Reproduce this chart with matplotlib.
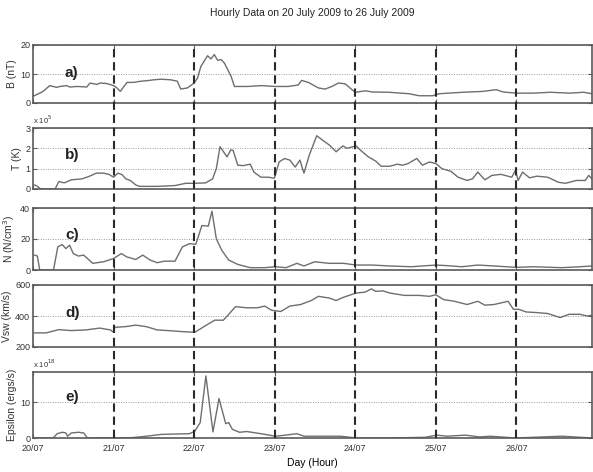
import matplotlib
matplotlib.use("Agg")
import matplotlib.pyplot as plt
import numpy as np

plt.rcParams['font.family'] = ['Liberation Sans', 'DejaVu Sans']

# ---- hourly solar-wind data, 20-26 July 2009 (hours from 20/07 00:00) ----
b_hours = [0, 2, 3, 5, 7, 8, 10, 11, 13, 15, 16, 17, 19, 20, 22, 24, 25, 26, 28, 30,
           32, 34, 36, 38, 41, 43, 44, 46, 48, 49, 50, 52, 53, 54, 55, 56, 57, 59, 60, 64,
           68, 72, 76, 79, 80, 82, 85, 87, 89, 91, 93, 95, 96, 99, 101, 106, 112, 115, 119, 121,
           128, 134, 138, 140, 144, 149, 154, 160, 164, 166.5]
b_field = [2.3, 3.4, 4.0, 6.0, 5.4, 5.7, 6.0, 5.5, 5.7, 5.6, 5.5, 6.9, 6.4, 6.9, 6.7, 6.0, 5.2, 4.0, 7.1, 7.1,
           7.5, 7.7, 8.0, 8.2, 8.0, 7.5, 4.8, 5.2, 6.9, 8.6, 12.6, 16.3, 15.2, 16.7, 14.7, 15.0, 13.8, 9.2, 5.7, 5.7,
           6.0, 5.7, 5.7, 6.2, 7.8, 7.1, 5.2, 4.8, 5.7, 6.9, 6.6, 4.6, 3.7, 4.2, 3.8, 3.7, 3.2, 2.5, 2.5, 3.2,
           3.7, 4.0, 4.6, 3.8, 3.4, 3.4, 3.7, 3.4, 3.7, 3.2]

t_hours = [0.5, 1.3, 2.3, 6.6, 7.7, 9.3, 11.4, 14.6, 16.7, 18.9, 21, 22.6, 24, 25.3, 26.6, 27.6, 29, 30.6, 31.7, 37,
           42.3, 45.5, 48.2, 51.4, 53.5, 54.6, 55.7, 57.8, 58.9, 59.6, 61, 62.6, 64.7, 65.8, 67.9, 70.1, 71.9, 73.3, 74.9, 76.5,
           78.1, 79.5, 80.7, 82.3, 84.5, 86.1, 88.2, 90.3, 92.3, 93.5, 96.2, 97.8, 99.9, 102.1, 103.7, 106.3, 108.5, 110.1, 111.7, 114.3,
           116, 118.1, 120, 121.8, 124.5, 126.6, 129.3, 130.9, 132.5, 134.6, 136.7, 139.4, 142.6, 143.7, 144.5, 145.8, 147.9, 150.1, 153.3, 156.5,
           158.6, 161.8, 164.5, 165.5, 166.5]
temp_e5 = [0.2, 0.13, 0.0, 0.0, 0.37, 0.3, 0.45, 0.5, 0.62, 0.78, 0.78, 0.72, 0.58, 0.78, 0.7, 0.5, 0.42, 0.2, 0.13, 0.13,
           0.17, 0.28, 0.28, 0.3, 0.5, 1.0, 2.08, 1.58, 1.92, 1.9, 1.17, 1.15, 1.22, 0.83, 0.58, 0.58, 0.53, 1.33, 1.5, 1.42,
           1.08, 1.42, 0.78, 1.67, 2.62, 2.42, 2.17, 1.83, 2.12, 2.0, 2.12, 1.87, 1.58, 1.37, 1.12, 1.12, 1.22, 1.17, 1.25, 1.5,
           1.17, 1.33, 1.25, 1.0, 0.87, 0.58, 0.42, 0.5, 0.83, 0.45, 0.67, 0.72, 0.58, 0.92, 0.42, 0.83, 0.55, 0.63, 0.58, 0.33,
           0.28, 0.42, 0.42, 0.67, 0.5]

n_hours = [0.5, 1.3, 2, 6.1, 7.4, 8.7, 9.8, 10.9, 12, 13.5, 15.1, 17.8, 21, 24, 26.3, 27.9, 30.6, 32.7, 34.9, 37,
           39.1, 42.3, 44.5, 46.6, 48.5, 50.3, 52.2, 53.3, 54.6, 56.2, 58.3, 61, 64.7, 69, 72.2, 75.4, 78.6, 80.7, 83.9, 88.2,
           92.5, 96.2, 101, 106.3, 112.7, 120, 123.4, 127.7, 132.5, 137.3, 144, 149, 157.5, 162.9, 166.5]
density = [9.6, 9.0, 0.0, 0.0, 15.0, 16.4, 13.8, 16.0, 10.6, 9.0, 9.6, 4.3, 5.3, 7.4, 10.6, 8.5, 6.8, 9.6, 6.4, 4.7,
           5.7, 5.7, 14.9, 17.0, 16.6, 28.7, 28.3, 37.9, 20.2, 12.8, 6.4, 3.6, 1.5, 1.5, 2.1, 1.5, 4.3, 2.6, 5.3, 4.3,
           4.3, 3.2, 3.2, 2.6, 2.1, 3.2, 2.8, 2.1, 3.2, 2.6, 1.7, 2.1, 1.5, 2.1, 2.6]

v_hours = [0.5, 3.9, 7.7, 11.4, 15.7, 19.9, 23.1, 24, 24.4, 27.4, 30.6, 33.8, 37, 40.2, 44.5, 48.2, 50.9, 54.1, 56.7, 58.3,
           60.3, 63.7, 66.9, 69, 71.1, 73.8, 76.5, 79.7, 82.9, 85, 88.2, 90.3, 92.5, 96.2, 98.9, 100.8, 102.1, 104.2, 106.3, 110.6,
           114.9, 118.1, 120, 122.3, 125.5, 129.3, 132.5, 134.6, 137.3, 141.5, 143.1, 144.7, 146.9, 150.1, 153.3, 157, 159.7, 162.9, 165, 166.5]
v_sw = [291, 291, 312, 306, 310, 322, 310, 295, 327, 331, 341, 331, 310, 306, 299, 295, 331, 373, 373, 411,
        460, 453, 453, 464, 437, 429, 464, 474, 500, 527, 516, 500, 521, 548, 554, 575, 559, 562, 548, 533,
        533, 527, 537, 506, 495, 474, 495, 470, 474, 495, 443, 443, 426, 422, 416, 390, 411, 411, 400, 405]

e_hours = [0, 6, 7.2, 8.7, 9.8, 10.3, 11.4, 13.5, 15.1, 16.2, 29.5, 33.8, 38.1, 42.3, 46.6, 48.2, 49.8, 51.5, 53.6, 55.4,
           57.4, 58.3, 59.4, 61.5, 63.7, 67.9, 72.2, 74.3, 78.6, 80.7, 85, 91.4, 93.5, 96.2, 106.3, 117, 120.2, 123.4, 128.7, 133,
           136.2, 143.7, 157.5, 166.5]
epsilon_e18 = [0.0, 0.0, 1.2, 1.6, 1.4, 0.5, 1.4, 1.6, 1.4, 0.0, 0.1, 0.5, 1.0, 1.1, 1.2, 1.9, 4.3, 17.3, 1.7, 11.0,
               4.0, 4.3, 2.4, 1.6, 1.8, 1.2, 0.5, 0.7, 1.2, 0.5, 0.5, 0.5, 0.3, 0.0, 0.0, 0.2, 0.8, 0.5, 0.8, 0.3,
               0.5, 0.0, 0.5, 0.0]

day_labels = ['20/07', '21/07', '22/07', '23/07', '24/07', '25/07', '26/07']
panel_tags = ['a)', 'b)', 'c)', 'd)', 'e)']

W, H = 593, 472
fig = plt.figure(figsize=(W / 100, H / 100), dpi=100)

left = 33 / W
width = 559 / W
# (top px, bottom px) for each panel
rows = [(45, 103), (128, 189), (208, 270), (285, 347), (372, 438)]

series = [
    (b_hours, b_field, (0, 20), [0, 10, 20], 'B (nT)', 10.3, None),
    (t_hours, temp_e5, (0, 3), [0, 1, 2, 3], 'T (K)', 1.65, r'x 10$^5$'),
    (n_hours, density, (0, 40), [0, 20, 40], r'N (N/cm$^3$)', 22.5, None),
    (v_hours, v_sw, (200, 600), [200, 400, 600], 'Vsw (km/s)', 420, None),
    (e_hours, epsilon_e18, (0, 18.4), [0, 10], 'Epsilon (ergs/s)', 11.3, r'x 10$^{18}$'),
]

xmax = 166.5
spine_col = '#5a5a5a'
axes = []
for i, ((top, bot), (hx, yv, ylim, yt, ylab, tag_y, offs)) in enumerate(zip(rows, series)):
    ax = fig.add_axes([left, 1 - bot / H, width, (bot - top) / H])
    ax.plot(hx, yv, color='#6e6e6e', lw=1.0)
    ax.set_xlim(0, xmax)
    ax.set_ylim(*ylim)
    ax.set_yticks(yt)
    ax.set_yticklabels([str(v) for v in yt], fontsize=6.5)
    ax.set_xticks(np.arange(0, 7) * 24)
    if i == len(rows) - 1:
        ax.set_xticklabels(day_labels, fontsize=6.5)
        ax.set_xlabel('Day (Hour)', fontsize=7.5, labelpad=4)
    else:
        ax.set_xticklabels([])
    ax.tick_params(direction='in', length=3, width=0.8, color=spine_col,
                   top=True, right=True, pad=2, labelcolor='#333333')
    ax.tick_params(axis='x', pad=4)
    ax.yaxis.grid(True, linestyle=(0, (1, 1.5)), color='#9a9a9a', lw=0.7)
    for s in ax.spines.values():
        s.set_color(spine_col)
        s.set_linewidth(1.2)
    ax.set_ylabel(ylab, fontsize=7.5, color='#333333', labelpad=2)
    ax.text(9.5, tag_y, panel_tags[i], fontsize=11, fontweight='bold',
            va='center', ha='left', color='#222222')
    if offs:
        ax.text(0, 1.03, offs, transform=ax.transAxes, fontsize=5.5,
                ha='left', va='bottom', color='#333333')
    axes.append(ax)

fig.align_ylabels(axes)

# day boundaries drawn through every panel
top_frac = 1 - rows[0][0] / H
bot_frac = 1 - rows[-1][1] / H
over = fig.add_axes([left, bot_frac, width, top_frac - bot_frac], zorder=10)
over.set_xlim(0, xmax)
over.set_ylim(0, 1)
over.axis('off')
for d in range(1, 7):
    over.axvline(d * 24, color='#2a2a2a', lw=1.5, linestyle=(0, (4, 2.3)))

fig.text(312 / W, 1 - 13 / H, 'Hourly Data on 20 July 2009 to 26 July 2009',
         ha='center', va='center', fontsize=7.5, color='#222222')

fig.savefig('out.png', dpi=100, facecolor='white')
